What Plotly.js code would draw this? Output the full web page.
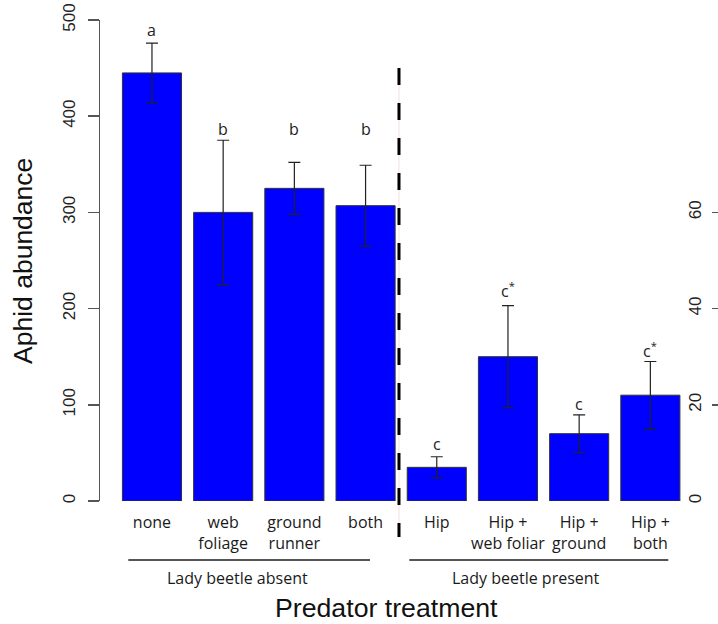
<!DOCTYPE html>
<html>
<head>
<meta charset="utf-8">
<script src="https://cdn.plot.ly/plotly-3.0.1.min.js"></script>
<style>html,body{margin:0;padding:0;background:#fff;}#chart{width:718px;height:624px;}</style>
</head>
<body>
<div id="chart"></div>
<script>
// Categories (tick labels)
var absentCats = ['none', 'web<br>foliage', 'ground<br>runner', 'both'];
var presentCats = ['Hip', 'Hip +<br>web foliar', 'Hip +<br>ground', 'Hip +<br>both'];
// Lady beetle absent: means and SE (left axis)
var absentMeans = [445, 300, 325, 307];
var absentErr = [31, 75, 27, 42];
var absentLetters = ['a', 'b', 'b', 'b'];
var absentLetterY = [490, 387, 387, 387];
// Lady beetle present: means and SE (right axis)
var presentMeans = [7, 30, 14, 22];
var presentErr = [2.2, 10.6, 3.9, 7];
var presentLetters = ['c', 'c<sup>*</sup>', 'c', 'c<sup>*</sup>'];
var presentLetterY = [11.9, 43.8, 20.2, 31.4];
var groupLabels = ['Lady beetle absent', 'Lady beetle present'];
var leftTicks = [0, 100, 200, 300, 400, 500];
var rightTicks = [0, 20, 40, 60];

var allCats = absentCats.concat(presentCats);
var catFont = 'Open Sans, sans-serif';
var numFont = 'Liberation Sans, Arial, sans-serif';

var barStyle = {color: '#0000ff', line: {color: '#333', width: 1}};
var errStyle = {type: 'data', visible: true, color: '#222', thickness: 1.2, width: 6};

var traces = [
  {type: 'bar', x: absentCats, y: absentMeans, width: 0.83, marker: barStyle,
   error_y: Object.assign({array: absentErr}, errStyle), xaxis: 'x', yaxis: 'y', hoverinfo: 'skip'},
  {type: 'bar', x: presentCats, y: presentMeans, width: 0.83, marker: barStyle,
   error_y: Object.assign({array: presentErr}, errStyle), xaxis: 'x', yaxis: 'y2', hoverinfo: 'skip'},
  // empty trace so the right-hand tick-mark axis is drawn
  {type: 'scatter', mode: 'markers', x: [], y: [], xaxis: 'x', yaxis: 'y3', hoverinfo: 'skip'}
];

var annotations = [];
absentLetters.forEach(function (t, i) {
  annotations.push({xref: 'x', yref: 'y', x: absentCats[i], y: absentLetterY[i], text: t, showarrow: false,
    font: {family: catFont, size: 16, color: '#222'}});
});
presentLetters.forEach(function (t, i) {
  annotations.push({xref: 'x', yref: 'y2', x: presentCats[i], y: presentLetterY[i], text: t, showarrow: false,
    font: {family: catFont, size: 16, color: '#222'}});
});
annotations.push({xref: 'paper', yref: 'paper', x: 0.2217, y: -0.1595, xanchor: 'center', yanchor: 'middle',
  text: groupLabels[0], showarrow: false, font: {family: catFont, size: 16, color: '#1a1a1a'}});
annotations.push({xref: 'paper', yref: 'paper', x: 0.6893, y: -0.1595, xanchor: 'center', yanchor: 'middle',
  text: groupLabels[1], showarrow: false, font: {family: catFont, size: 16, color: '#1a1a1a'}});
annotations.push({xref: 'paper', yref: 'paper', x: 0.4644, y: -0.2225, xanchor: 'center', yanchor: 'middle',
  text: 'Predator treatment', showarrow: false, font: {family: numFont, size: 26.7, color: '#111'}});
annotations.push({xref: 'paper', yref: 'paper', x: -0.1246, y: 0.499, text: 'Aphid abundance', textangle: -90,
  showarrow: false, xanchor: 'center', yanchor: 'middle', font: {family: numFont, size: 26.5, color: '#111'}});

var shapes = [
  {type: 'line', xref: 'paper', yref: 'paper', x0: 0.4838, x1: 0.4838, y0: 0.9, y1: -0.075,
   line: {color: '#f6dede', width: 1}},
  {type: 'line', xref: 'paper', yref: 'paper', x0: 0.4838, x1: 0.4838, y0: 0.9, y1: -0.075,
   line: {color: '#000', width: 3, dash: '17px,18px'}},
  {type: 'line', xref: 'paper', yref: 'paper', x0: 0.0458, x1: 0.4369, y0: -0.1227, y1: -0.1227,
   line: {color: '#555', width: 2}},
  {type: 'line', xref: 'paper', yref: 'paper', x0: 0.5005, x1: 0.9196, y0: -0.1227, y1: -0.1227,
   line: {color: '#555', width: 2}}
];

var layout = {
  width: 718, height: 624,
  margin: {l: 100, r: 0, t: 20, b: 123, pad: 0},
  paper_bgcolor: '#fff', plot_bgcolor: '#fff',
  showlegend: false,
  barmode: 'overlay',
  xaxis: {type: 'category', categoryorder: 'array', categoryarray: allCats, range: [-0.73, 7.95],
    domain: [0, 1], showline: false, showgrid: false, zeroline: false, ticks: '', ticklabelstandoff: 10,
    tickfont: {family: catFont, size: 16, color: '#1a1a1a'}, fixedrange: true},
  yaxis: {range: [0, 500], tickvals: leftTicks, tickangle: -90, ticks: 'outside', ticklen: 11,
    tickcolor: '#555', tickwidth: 1.5, showline: true, linecolor: '#555', linewidth: 1.5,
    showgrid: false, zeroline: false, ticklabelstandoff: 6,
    tickfont: {family: numFont, size: 17, color: '#222'}, fixedrange: true},
  yaxis2: {overlaying: 'y', side: 'right', anchor: 'free', position: 0.9434, range: [0, 100],
    tickvals: rightTicks, tickangle: -90, ticks: '', showline: false, showgrid: false, zeroline: false,
    tickfont: {family: numFont, size: 17, color: '#222'}, fixedrange: true},
  yaxis3: {overlaying: 'y', side: 'right', anchor: 'x', range: [0, 100], tickvals: rightTicks,
    ticks: 'inside', ticklen: 6, tickcolor: '#555', tickwidth: 1.5, showticklabels: false,
    showline: false, showgrid: false, zeroline: false, fixedrange: true},
  annotations: annotations,
  shapes: shapes
};

Plotly.newPlot('chart', traces, layout, {displayModeBar: false, staticPlot: true});
</script>
</body>
</html>
